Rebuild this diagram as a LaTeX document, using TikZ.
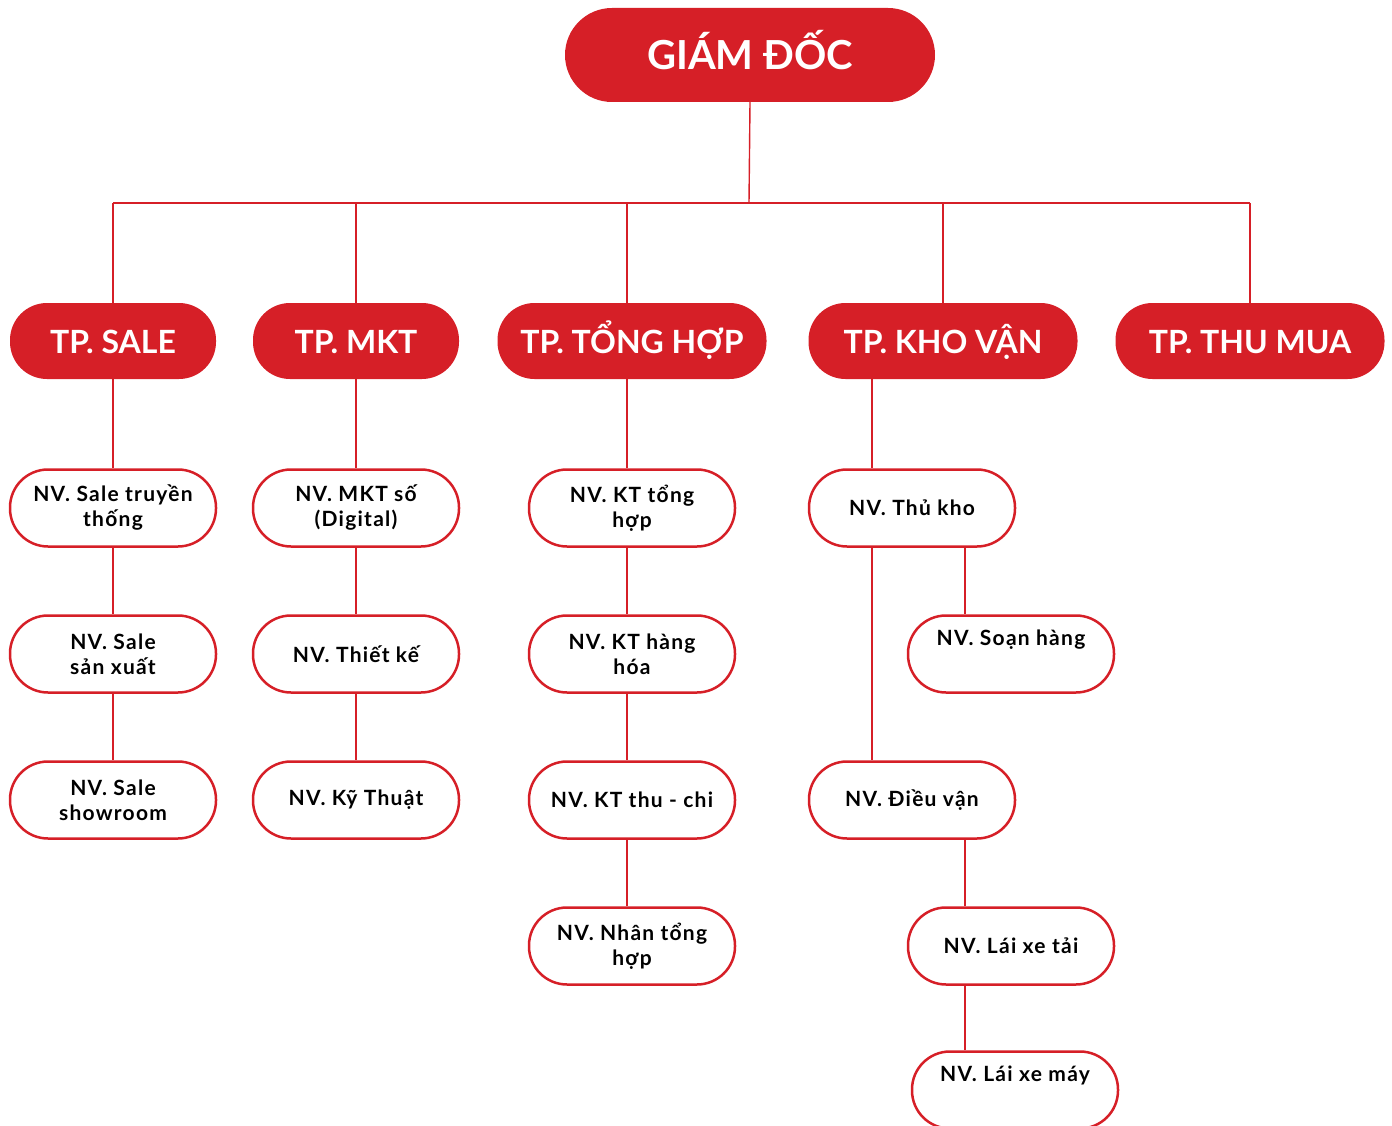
\documentclass[tikz,border=0pt]{standalone}
\usepackage{fontspec}
\setmainfont{Lato}
\newfontfamily\widefont{Lato}[LetterSpace=6]
\definecolor{brandred}{HTML}{D61F27}
\begin{document}
\begin{tikzpicture}[x=1pt,y=-1pt,
  font=\bfseries,
  top/.style={rectangle,rounded corners=47pt,fill=brandred,text=white,
    minimum width=370pt,minimum height=94pt,inner sep=0pt,text height=29pt,text depth=0pt,
    font=\fontsize{40}{44}\selectfont\bfseries},
  head/.style={rectangle,rounded corners=37pt,fill=brandred,text=white,
    minimum height=76pt,inner sep=0pt,text height=24pt,text depth=0pt,
    font=\fontsize{32}{36}\selectfont\bfseries},
  staff/.style={rectangle,rounded corners=38pt,draw=brandred,line width=2.5pt,fill=white,
    minimum width=206pt,minimum height=77pt,inner sep=0pt,align=center,
    font=\widefont\fontsize{21}{25}\selectfont\bfseries},
  link/.style={draw=brandred,line width=1.4pt}]
\useasboundingbox (0,0) rectangle (1392,1126);
% top
\node[top] (gd) at (750,55) {GIÁM ĐỐC};
% department heads
\node[head,minimum width=206pt] (sale) at (113,341) {TP. SALE};
\node[head,minimum width=206pt] (mkt) at (356,341) {TP. MKT};
\node[head,minimum width=269pt] (th) at (632,341) {TP. TỔNG HỢP};
\node[head,minimum width=269pt] (kv) at (943,341) {TP. KHO VẬN};
\node[head,minimum width=269pt] (tm) at (1250,341) {TP. THU MUA};
% column coordinates
\coordinate (bus) at (749,203);
\coordinate (c3) at (627,0);
\coordinate (k1) at (872,0);
\coordinate (k2) at (965,0);
% sale column
\node[staff] (s1) at (113,508) {NV. Sale truyền\\thống};
\node[staff] (s2) at (113,654) {NV. Sale\\sản xuất};
\node[staff] (s3) at (113,800) {NV. Sale\\showroom};
% mkt column
\node[staff] (m1) at (356,508) {NV. MKT số\\(Digital)};
\node[staff] (m2) at (356,654) {NV. Thiết kế};
\node[staff] (m3) at (356,800) {NV. Kỹ Thuật};
% tong hop column
\node[staff] (t1) at (632,508) {NV. KT tổng\\hợp};
\node[staff] (t2) at (632,654) {NV. KT hàng\\hóa};
\node[staff] (t3) at (632,800) {NV. KT thu - chi};
\node[staff] (t4) at (632,946) {NV. Nhân tổng\\hợp};
% kho van column
\node[staff] (w1) at (912,508) {NV. Thủ kho};
\node[staff] (w2) at (1011,654) {NV. Soạn hàng\\\strut};
\node[staff] (w3) at (912,800) {NV. Điều vận};
\node[staff] (w4) at (1011,946) {NV. Lái xe tải};
\node[staff] (w5) at (1015,1090) {NV. Lái xe máy\\\strut};
% connectors
\draw[link] (gd.south) -- (bus);
\draw[link] (sale.north |- bus) -- (tm.north |- bus);
\draw[link] (sale.north |- bus) -- (sale.north);
\draw[link] (mkt.north |- bus) -- (mkt.north);
\draw[link] (c3 |- bus) -- (th.north -| c3);
\draw[link] (kv.north |- bus) -- (kv.north);
\draw[link] (tm.north |- bus) -- (tm.north);
\draw[link] (sale.south) -- (s1.north);
\draw[link] (s1.south) -- (s2.north);
\draw[link] (s2.south) -- (s3.north);
\draw[link] (mkt.south) -- (m1.north);
\draw[link] (m1.south) -- (m2.north);
\draw[link] (m2.south) -- (m3.north);
\draw[link] (th.south -| c3) -- (t1.north -| c3);
\draw[link] (t1.south -| c3) -- (t2.north -| c3);
\draw[link] (t2.south -| c3) -- (t3.north -| c3);
\draw[link] (t3.south -| c3) -- (t4.north -| c3);
\draw[link] (kv.south -| k1) -- (w1.north -| k1);
\draw[link] (w1.south -| k1) -- (w3.north -| k1);
\draw[link] (w1.south -| k2) -- (w2.north -| k2);
\draw[link] (w3.south -| k2) -- (w4.north -| k2);
\draw[link] (w4.south -| k2) -- (w5.north -| k2);
\end{tikzpicture}
\end{document}
